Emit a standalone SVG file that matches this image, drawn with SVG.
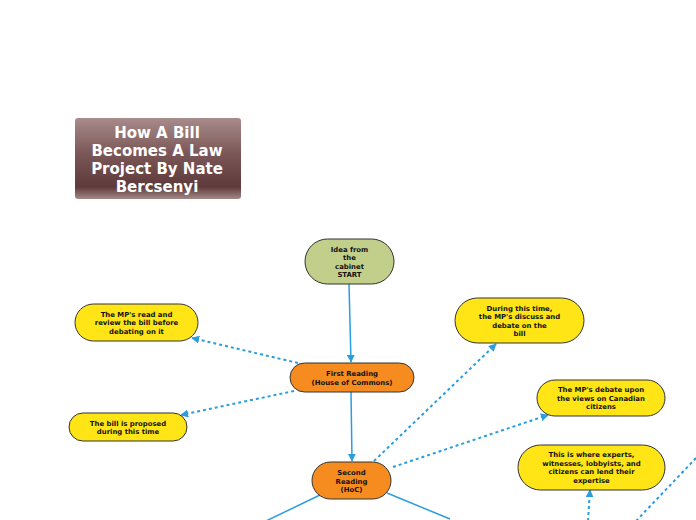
<svg xmlns="http://www.w3.org/2000/svg" width="696" height="520" viewBox="0 0 696 520">
<defs>
<linearGradient id="tg" x1="0" y1="0" x2="0" y2="1">
<stop offset="0" stop-color="#a88b8b"/>
<stop offset="0.45" stop-color="#7a5656"/>
<stop offset="0.85" stop-color="#5e3a3a"/>
<stop offset="1" stop-color="#a48888"/>
</linearGradient>
<marker id="ah2" viewBox="0 0 10 10" refX="9" refY="5" markerWidth="8" markerHeight="8" orient="auto" markerUnits="userSpaceOnUse">
<path d="M0,0 L10,5 L0,10 z" fill="#2a9de0"/>
</marker>
</defs>
<style>
.t{font-family:"DejaVu Sans",Verdana,sans-serif;font-weight:bold;font-size:6.9px;fill:#111111;text-anchor:middle}
.title{font-family:"DejaVu Sans",Verdana,sans-serif;font-weight:bold;font-size:15px;fill:#ffffff;text-anchor:middle}
.n{stroke:#333333;stroke-width:1}
.y{fill:#ffe516}
.o{fill:#f68b1f}
.g{fill:#c2cf8a}
.s{fill:none;stroke:#2a9de0;stroke-width:1.5}
.d{fill:none;stroke:#2a9de0;stroke-width:2;stroke-dasharray:3 3}
</style>
<rect width="696" height="520" fill="#ffffff"/>
<g id="title">
<rect x="75" y="118" width="166" height="81" rx="3" fill="url(#tg)"/>
<text class="title" x="157" y="138">How A Bill</text>
<text class="title" x="157" y="156">Becomes A Law</text>
<text class="title" x="157" y="174">Project By Nate </text>
<text class="title" x="157" y="192">Bercsenyi</text>
</g>
<g id="connectors">
<line class="s" x1="349" y1="284" x2="351" y2="362" marker-end="url(#ah2)"/>
<line class="s" x1="351" y1="392" x2="352" y2="461" marker-end="url(#ah2)"/>
<line class="d" x1="298" y1="363" x2="192" y2="338" marker-end="url(#ah2)"/>
<line class="d" x1="294" y1="391" x2="181" y2="415" marker-end="url(#ah2)"/>
<line class="d" x1="374" y1="461" x2="496" y2="344" marker-end="url(#ah2)"/>
<line class="d" x1="393" y1="467" x2="548" y2="415" marker-end="url(#ah2)"/>
<line class="s" x1="320" y1="495" x2="266" y2="521"/>
<line class="s" x1="387" y1="493" x2="450" y2="519"/>
<line class="d" x1="588" y1="521" x2="590" y2="490" marker-end="url(#ah2)"/>
<line class="d" x1="636" y1="521" x2="697" y2="457"/>
</g>
<g id="idea">
<rect class="n g" x="305" y="239" width="89" height="45" rx="22.5"/>
<text class="t" x="349.5" y="252">Idea from</text>
<text class="t" x="349.5" y="260">the</text>
<text class="t" x="349.5" y="269">cabinet</text>
<text class="t" x="349.5" y="277">START</text>
</g>
<g id="first">
<rect class="n o" x="290" y="363" width="124" height="29" rx="14.5"/>
<text class="t" x="352" y="376">First Reading</text>
<text class="t" x="352" y="385">(House of Commons)</text>
</g>
<g id="second">
<rect class="n o" x="312" y="462" width="79" height="37" rx="18.5"/>
<text class="t" x="351.5" y="475">Second</text>
<text class="t" x="351.5" y="484">Reading</text>
<text class="t" x="351.5" y="492">(HoC)</text>
</g>
<g id="mpread">
<rect class="n y" x="75" y="304" width="123" height="37" rx="18.5"/>
<text class="t" x="136.5" y="317">The MP's read and</text>
<text class="t" x="136.5" y="325">review the bill before</text>
<text class="t" x="136.5" y="334">debating on it</text>
</g>
<g id="proposed">
<rect class="n y" x="69" y="413" width="118" height="28" rx="14"/>
<text class="t" x="128" y="426">The bill is proposed</text>
<text class="t" x="128" y="434">during this time</text>
</g>
<g id="during">
<rect class="n y" x="455" y="298" width="129" height="45" rx="22.5"/>
<text class="t" x="519.5" y="311">During this time,</text>
<text class="t" x="519.5" y="319">the MP's discuss and</text>
<text class="t" x="519.5" y="328">debate on the</text>
<text class="t" x="519.5" y="336">bill</text>
</g>
<g id="debate">
<rect class="n y" x="537" y="380" width="128" height="36" rx="18"/>
<text class="t" x="601" y="392">The MP's debate upon</text>
<text class="t" x="601" y="401">the views on Canadian</text>
<text class="t" x="601" y="409">citizens</text>
</g>
<g id="experts">
<rect class="n y" x="518" y="445" width="147" height="45" rx="22.5"/>
<text class="t" x="591.5" y="457">This is where experts,</text>
<text class="t" x="591.5" y="466">witnesses, lobbyists, and</text>
<text class="t" x="591.5" y="474">citizens can lend their</text>
<text class="t" x="591.5" y="483">expertise</text>
</g>
</svg>
